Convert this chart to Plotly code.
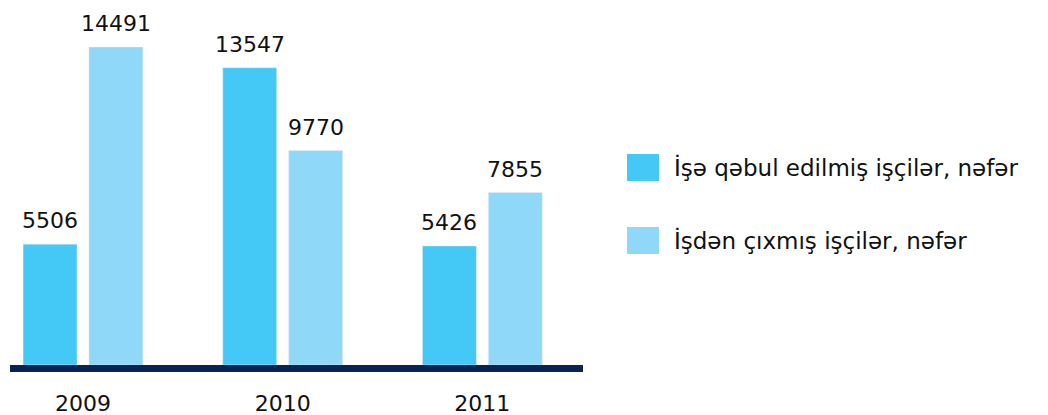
import plotly.graph_objects as go

years = ["2009", "2010", "2011"]
hired = [5506, 13547, 5426]
left = [14491, 9770, 7855]
series_names = ["İşə qəbul edilmiş işçilər, nəfər", "İşdən çıxmış işçilər, nəfər"]
colors = ["#44C8F5", "#8FD8F8"]

W, H = 1048, 415
PAGE = 8  # default body margin of the html page
# plot area on screen, in pixels
L, R, T, B = 10, 583, 10, 365


def px_x(p):
    return (p - L) / (R - L)


def px_y(p):
    return (B - p) / (B - T)


xpos = list(range(len(years)))
bar_w = 0.27
offsets = [-0.30, 0.03]

fig = go.Figure()
for vals, name, color, off in zip([hired, left], series_names, colors, offsets):
    fig.add_trace(go.Bar(
        x=xpos, y=vals, name=name, marker_color=color,
        width=bar_w, offset=off, showlegend=False,
    ))
    for x, v in zip(xpos, vals):
        fig.add_annotation(
            x=x + off + bar_w / 2, y=v, text=str(v), showarrow=False,
            yanchor="bottom", yshift=9, font=dict(size=22, color="#111111"),
        )

# legend drawn by hand (large swatches)
legend_rows = [(154, 181, 167), (227, 254, 240)]
for (y0, y1, yc), name, color in zip(legend_rows, series_names, colors):
    fig.add_shape(type="rect", xref="paper", yref="paper",
                  x0=px_x(627), x1=px_x(659), y0=px_y(y1), y1=px_y(y0),
                  fillcolor=color, line_width=0)
    fig.add_annotation(xref="paper", yref="paper", x=px_x(672), y=px_y(yc),
                       xanchor="left", yanchor="middle", showarrow=False,
                       text=name, font=dict(size=23, color="#111111"))

fig.update_layout(
    width=W, height=H,
    margin=dict(l=L - PAGE, r=W - R + PAGE, t=T - PAGE, b=H - B + PAGE),
    paper_bgcolor="white", plot_bgcolor="white",
    font=dict(family="DejaVu Sans, Arial, sans-serif", color="#111111"),
    xaxis=dict(
        range=[-0.3655, 2.504], tickvals=xpos, ticktext=years,
        showgrid=False, zeroline=False, showline=True, linecolor="#0A2257",
        linewidth=7, ticks="", tickfont=dict(size=22, color="#111111"),
        ticklabelstandoff=13, automargin=False,
    ),
    yaxis=dict(range=[0, 16177], visible=False, showgrid=False,
               zeroline=False, automargin=False),
)

fig.write_html("out.html")
